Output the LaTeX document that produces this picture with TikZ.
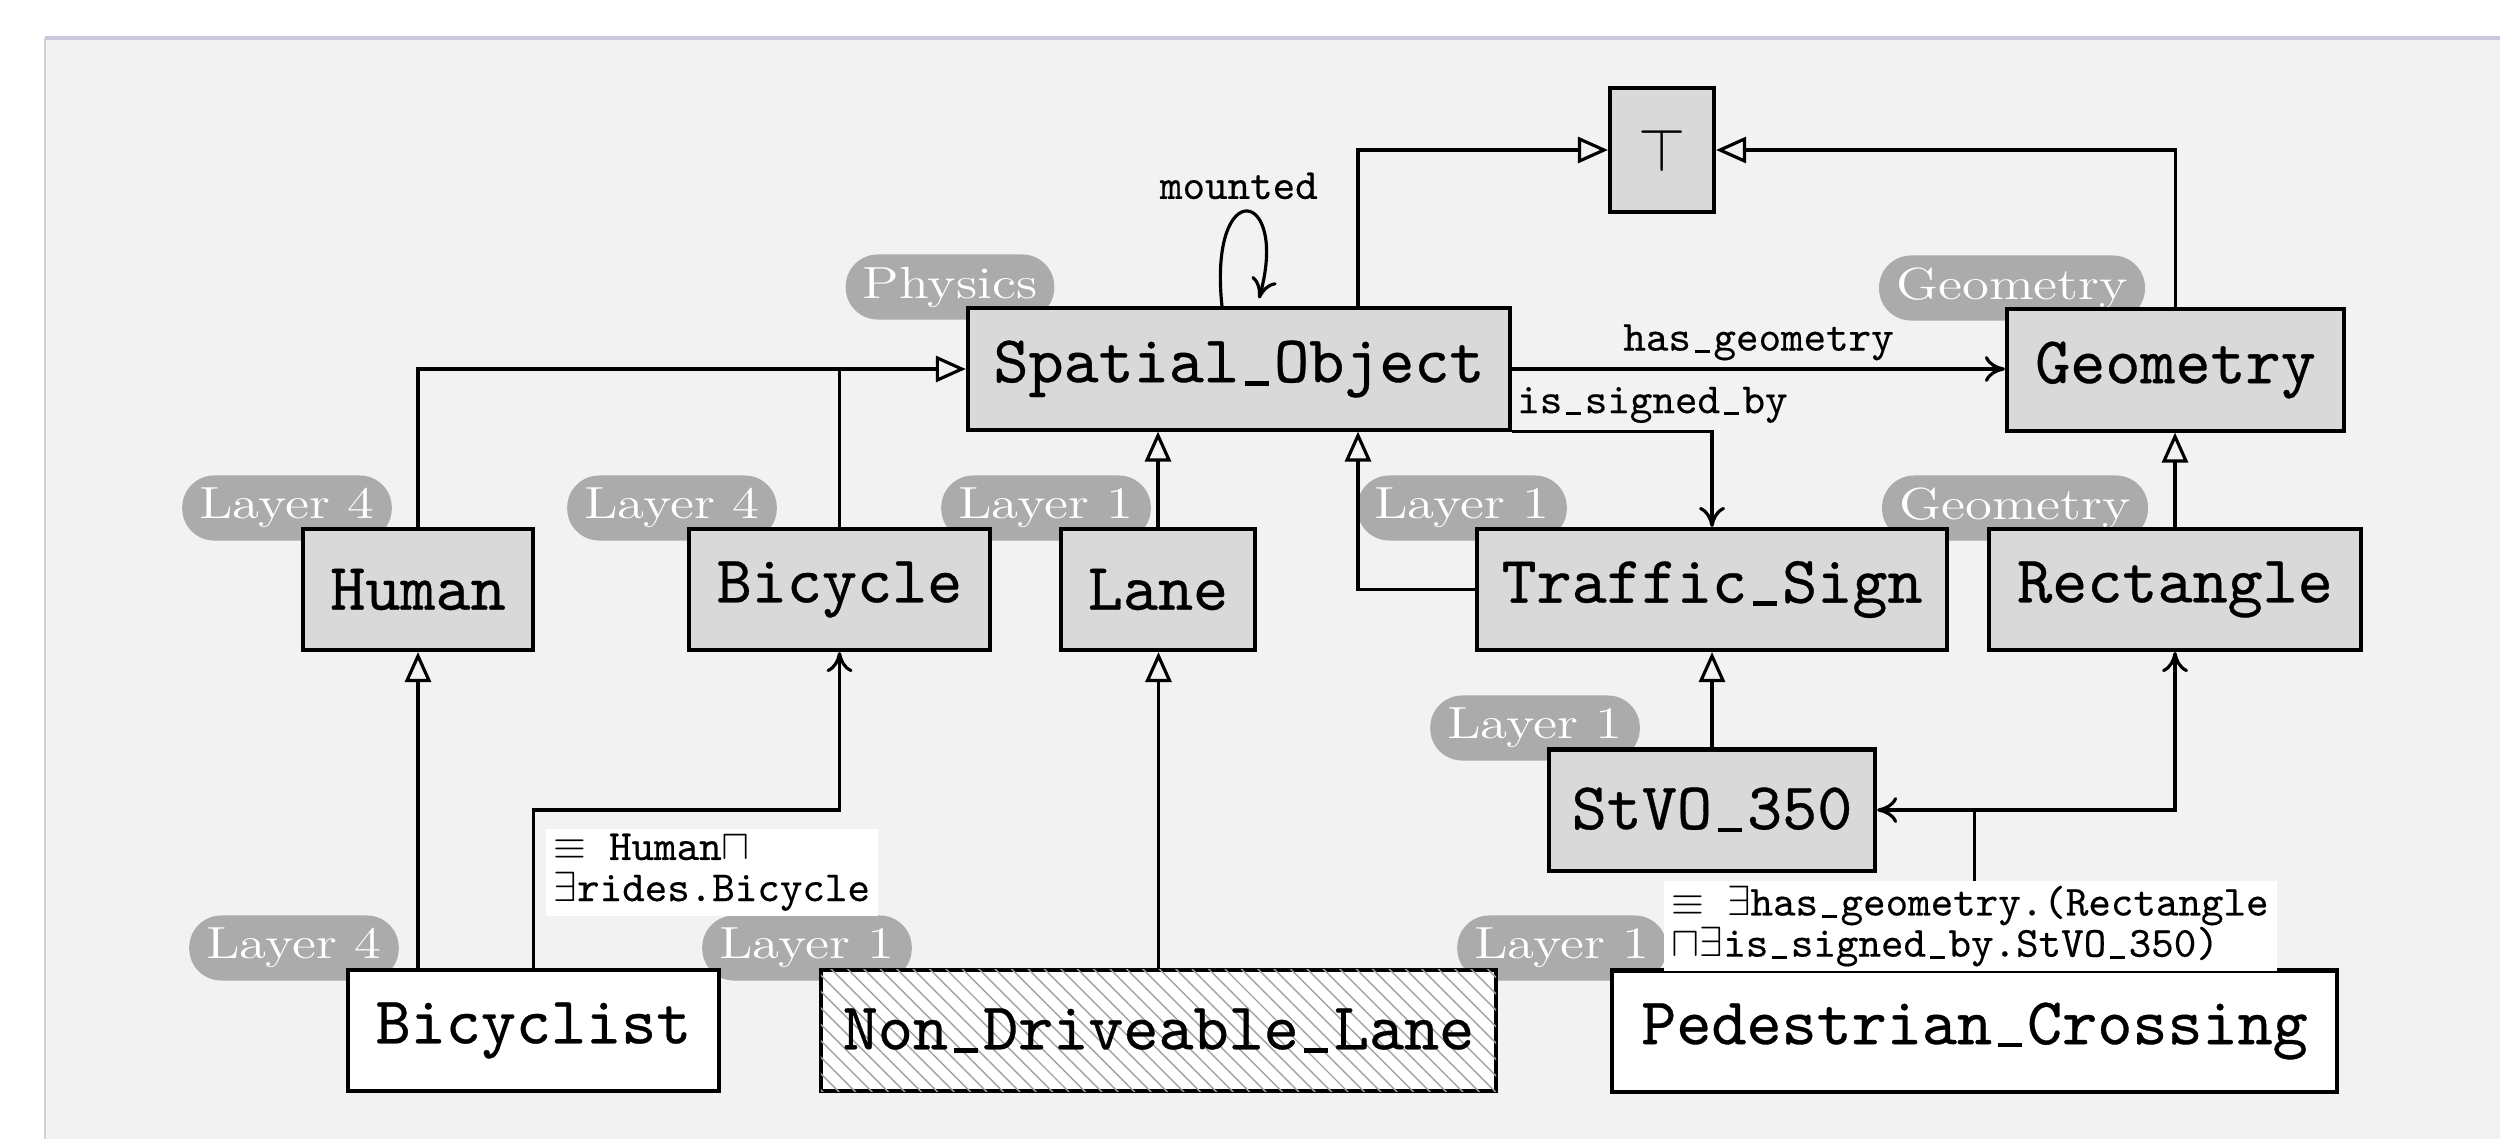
\documentclass[tikz,border=0pt]{standalone}
\usepackage{fontspec}
\usepackage{graphicx}
\usetikzlibrary{arrows.meta,patterns.meta}

% slightly heavier typewriter face for class names and role labels
\newfontfamily\boxtt{lmmono10-regular}[Extension=.otf, FakeBold=0.5]
\newfontfamily\labtt{lmmono10-regular}[Extension=.otf, FakeBold=0.3]

\definecolor{panel}{HTML}{F2F2F2}
\definecolor{panelrule}{HTML}{C9C7DB}
\definecolor{boxgray}{HTML}{D9D9D9}
\definecolor{pillgray}{HTML}{ABABAB}
\definecolor{hatch}{HTML}{A8A09A}

% short typewriter underscore
\newcommand\us{\makebox[.525em]{\rule[-.05em]{.36em}{.07em}}}
% widened serif text for the layer tags
\newcommand\pilltext[1]{\scalebox{1.22}[1]{#1}}

\begin{document}
\begin{tikzpicture}[x=0.01cm, y=-0.01cm,
  cls/.style={draw, line width=1.15pt, fill=boxgray, minimum height=1.21cm,
    inner sep=0pt, font=\fontsize{19}{22}\selectfont\boxtt},
  plain/.style={cls, fill=white},
  hatched/.style={cls, fill=white,
    postaction={pattern={Lines[angle=-45,distance=3.3pt,line width=0.4pt]}, pattern color=hatch}},
  pill/.style={fill=pillgray, text=white, rounded corners=0.32cm,
    minimum height=0.65cm, inner xsep=0.17cm, inner ysep=0pt,
    font=\fontsize{12.8}{14}\selectfont\rmfamily},
  conn/.style={draw, line width=0.9pt},
  isa/.style={conn, -{Triangle[open, length=0.3cm, width=0.26cm]}},
  rel/.style={conn, -{Computer Modern Rightarrow[length=0.2cm, width=0.26cm]}},
  lab/.style={inner sep=1pt, font=\fontsize{12.2}{14}\selectfont\labtt},
  defn/.style={fill=white, inner xsep=0.08cm, inner ysep=0.05cm, align=left,
    font=\fontsize{12.2}{11.7}\selectfont\labtt}
]
\useasboundingbox (0,0) rectangle (2500,1139);
\fill[white] (0,0) rectangle (2500,1139);
\fill[panel] (45,38) rectangle (2500,1139);
\draw[gray!35, line width=0.4pt] (45,38) -- (45,1139);
\draw[panelrule, line width=1pt] (45,38) -- (2500,38);

% layer tags
\node[pill] (pPhys) at (950,287) {\pilltext{Physics}};
\node[pill] (pGeoA) at (2012,288) {\pilltext{Geometry}};
\node[pill] (pHu) at (287,508) {\pilltext{Layer 4}};
\node[pill] (pBi) at (672,508) {\pilltext{Layer 4}};
\node[pill] (pLa) at (1046,508) {\pilltext{Layer 1}};
\node[pill] (pTS) at (1462,508) {\pilltext{Layer 1}};
\node[pill] (pGeoB) at (2015,508) {\pilltext{Geometry}};
\node[pill] (pSt) at (1535,728) {\pilltext{Layer 1}};
\node[pill] (pBc) at (294,948) {\pilltext{Layer 4}};
\node[pill] (pNd) at (807,948) {\pilltext{Layer 1}};
\node[pill] (pPc) at (1562,948) {\pilltext{Layer 1}};

% classes
\node[cls, minimum width=1.04cm, minimum height=1.24cm] (top) at (1662,150) {$\top$};
\node[cls, minimum width=5.42cm] (SO) at (1239,369) {Spatial\us Object};
\node[cls, minimum width=3.37cm] (GE) at (2175.5,370) {Geometry};
\node[cls, minimum width=2.30cm] (HU) at (418,589.5) {Human};
\node[cls, minimum width=3.01cm] (BI) at (839.5,589.5) {Bicycle};
\node[cls, minimum width=1.93cm] (LA) at (1158,589.5) {Lane};
\node[cls, minimum width=4.70cm] (TS) at (1712,589.5) {Traffic\us Sign};
\node[cls, minimum width=3.72cm] (RE) at (2175,589.5) {Rectangle};
\node[cls, minimum width=3.26cm] (ST) at (1712,810) {StVO\us 350};
\node[plain, minimum width=3.71cm] (BC) at (533.5,1030.5) {Bicyclist};
\node[hatched, minimum width=6.75cm] (ND) at (1158.5,1030.5) {Non\us Driveable\us Lane};
\node[plain, minimum width=7.25cm] (PC) at (1974.5,1031) {Pedestrian\us Crossing};

% bend points
\coordinate (jA) at (1358,589.5);
\coordinate (jB) at (533.5,810);

% subsumption and role connectors
\draw[isa] (SO.north -| jA) |- (top.west);
\draw[isa] (GE.north) |- (top.east);
\draw[rel] ([xshift=-0.17cm]SO.north) .. controls +(-14,-133) and +(31,-110) .. ([xshift=0.2cm,yshift=0.08cm]SO.north)
  node[lab, pos=0.5, above=2pt, xshift=-0.08cm] {mounted};
\draw[rel] (SO.east) -- node[lab, above=1pt] {has\us geometry} (SO.east -| GE.west);
\draw[rel] (SO.south east) -| node[lab, pos=0, anchor=south west, yshift=1pt] {is\us signed\us by} (TS.north);
\draw[isa] (HU.north) |- (SO.west);
\draw[conn] (BI.north) -- (BI.north |- SO.west);
\draw[isa] (LA.north) -- (LA.north |- SO.south);
\draw[isa] (TS.west) -- (jA) -- (jA |- SO.south);
\draw[isa] (ST.north) -- (TS.south);
\draw[isa] (RE.north) -- (RE.north |- GE.south);
\draw[isa] (HU.south |- BC.north) -- (HU.south);
\draw[rel] (BC.north) -- (jB) -| (BI.south);
\draw[isa] (ND.north) -- (ND.north |- LA.south);
\draw[rel] (PC.north) |- (ST.east);
\draw[rel] (PC.north |- ST.east) -| (RE.south);

% definitions
\node[defn, anchor=north west] (dA) at (545,828) {$\equiv$ Human$\sqcap$\\$\exists$rides.Bicycle};
\node[defn, anchor=north west] (dB) at (1663,880) {$\equiv$ $\exists$has\us geometry.(Rectangle\\$\sqcap\exists$is\us signed\us by.StVO\us 350)};
\end{tikzpicture}
\end{document}
